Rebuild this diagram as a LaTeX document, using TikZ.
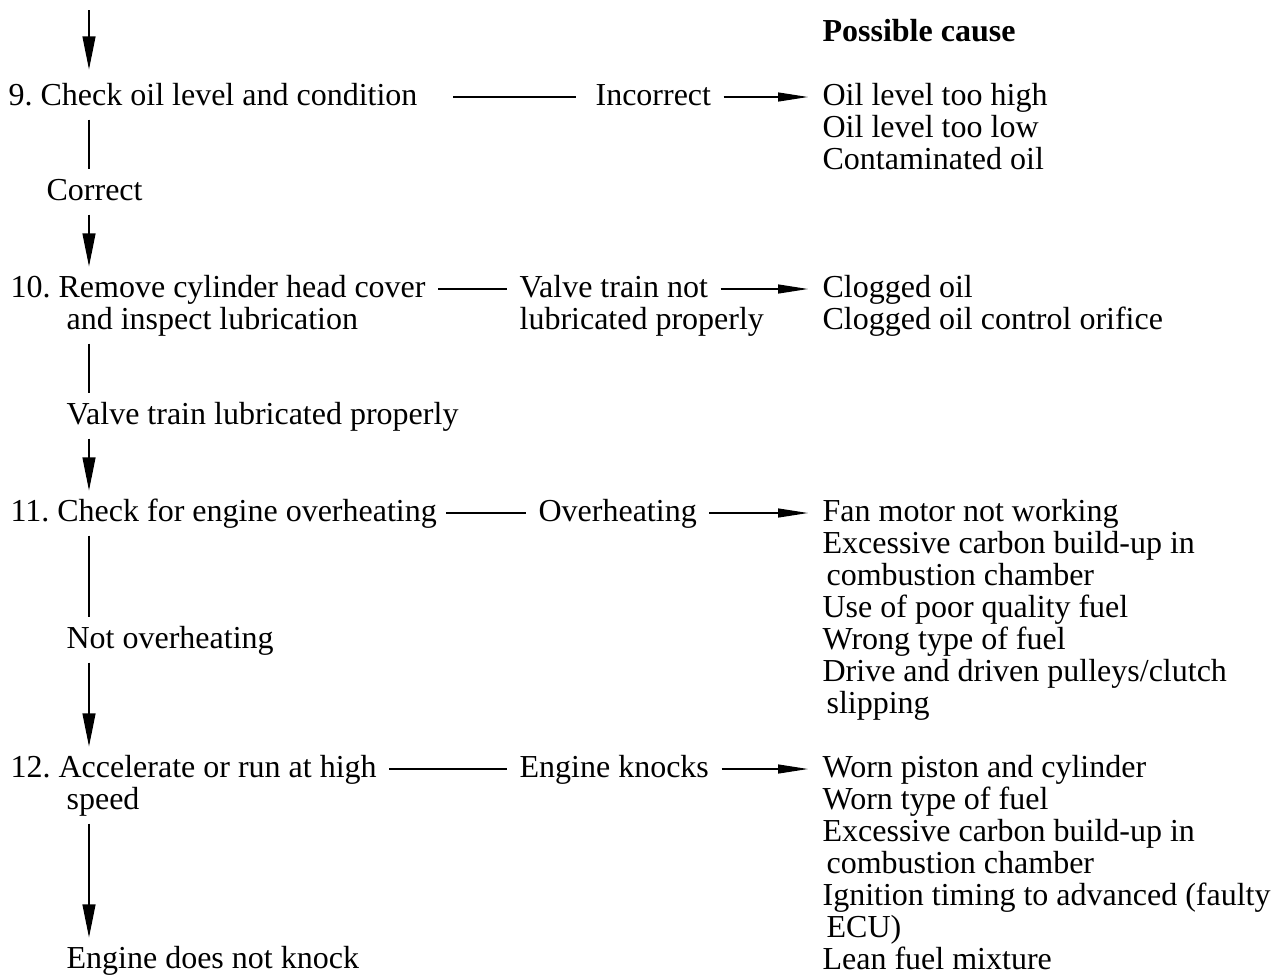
\documentclass[tikz,border=0pt]{standalone}
\usepackage{fontspec}
\setmainfont{Liberation Serif}
\usetikzlibrary{arrows.meta,positioning}
\frenchspacing

\begin{document}
\begin{tikzpicture}[
  x=1pt, y=-1pt, line width=1.2pt,
  every node/.style={font=\fontsize{32}{32}\selectfont},
  txt/.style={anchor=base west, inner sep=0pt, text height=24pt, text depth=8pt},
  cause/.style={anchor=base west, inner sep=0pt, text width=460pt, align=flush left},
  vline/.style={shorten <=6pt, shorten >=6pt},
  hline/.style={shorten <=12pt, shorten >=12pt},
  darrow/.style={-{Triangle[length=33pt,width=13pt]}},
  rarrow/.style={-{Triangle[length=30pt,width=9pt]}}
]
\useasboundingbox (0,0) rectangle (1281,978);

% checks down the left
\coordinate (top) at (89,10);
\node[txt] (s9)   at (8,105)  {9. Check oil level and condition};
\node[txt] (ok9)  at (46,200) {Correct};
\node[txt] (s10)  at (10,297) {10. Remove cylinder head cover};
\node[txt] (s10b) at (66,329) {and inspect lubrication};
\node[txt] (ok10) at (66,424) {Valve train lubricated properly};
\node[txt] (s11)  at (10,521) {11. Check for engine overheating};
\node[txt] (ok11) at (66,648) {Not overheating};
\node[txt] (s12)  at (10,777) {12. Accelerate or run at high};
\node[txt] (s12b) at (66,809) {speed};
\node[txt] (ok12) at (66,968) {Engine does not knock};

% results
\node[txt] (l9)   at (595,105) {Incorrect};
\node[txt] (l10)  at (519,297) {Valve train not};
\node[txt] (l10b) at (519,329) {lubricated properly};
\node[txt] (l11)  at (538,521) {Overheating};
\node[txt] (l12)  at (519,777) {Engine knocks};

% possible causes
\node[txt] (head) at (822,41) {\bfseries Possible cause};
\node[cause] (c9)  at (822,105) {Oil level too high\\Oil level too low\\Contaminated oil};
\node[cause] (c10) at (822,297) {Clogged oil\\Clogged oil control orifice};
\node[cause] (c11) at (822,521) {Fan motor not working\\Excessive carbon build-up in\\
  \hspace*{4pt}combustion chamber\\Use of poor quality fuel\\Wrong type of fuel\\
  Drive and driven pulleys/clutch\\\hspace*{4pt}slipping};
\node[cause] (c12) at (822,777) {Worn piston and cylinder\\Worn type of fuel\\
  Excessive carbon build-up in\\\hspace*{4pt}combustion chamber\\
  Ignition timing to advanced (faulty\\\hspace*{4pt}ECU)\\Lean fuel mixture};

% flow down
\draw[darrow, shorten >=11pt] (top) -- (s9.north -| top);
\draw[vline] (s9.south -| top) -- (ok9.north -| top);
\draw[darrow, vline] (ok9.south -| top) -- (s10.north -| top);
\draw[vline] (s10b.south -| top) -- (ok10.north -| top);
\draw[darrow, vline] (ok10.south -| top) -- (s11.north -| top);
\draw[vline] (s11.south -| top) -- (ok11.north -| top);
\draw[darrow, vline] (ok11.south -| top) -- (s12.north -| top);
\draw[darrow, vline] (s12b.south -| top) -- (ok12.north -| top);

% flow across
\draw[hline, shorten <=35pt, shorten >=19pt] (s9) -- (l9);
\draw[rarrow, hline, shorten >=14pt] (l9) -- (l9 -| c9.west);
\draw[hline] (s10) -- (l10);
\draw[rarrow, hline, shorten >=14pt] (l10) -- (l10 -| c10.west);
\draw[hline, shorten <=9pt] (s11) -- (l11);
\draw[rarrow, hline, shorten >=14pt] (l11) -- (l11 -| c11.west);
\draw[hline] (s12) -- (l12);
\draw[rarrow, hline, shorten >=14pt] (l12) -- (l12 -| c12.west);
\end{tikzpicture}
\end{document}
